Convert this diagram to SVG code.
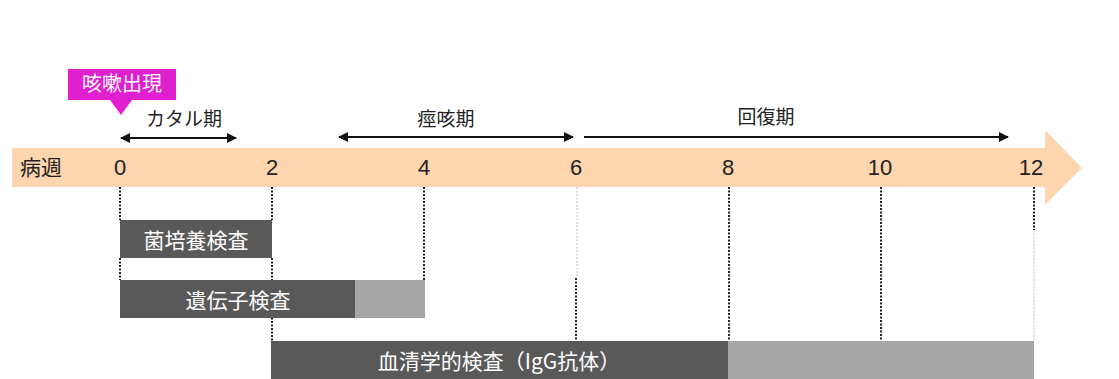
<svg xmlns="http://www.w3.org/2000/svg" width="1119" height="379" viewBox="0 0 1119 379">
<style>
text{font-family:"Noto Sans CJK JP","Noto Sans",sans-serif;font-size:19px;fill:#222;}
.num{font-family:"Liberation Sans","Noto Sans CJK JP",sans-serif;font-size:22px;}
.bar{font-size:21px;fill:#fff;}
.w{fill:#fff;}
.dd{stroke:#222;stroke-width:2;stroke-dasharray:2 1.5;fill:none;}
.dl{stroke:#bbb;stroke-width:1;stroke-dasharray:2 1.5;fill:none;}
.ar{stroke:#111;stroke-width:2;fill:none;}
.dark{fill:#595959;}
.light{fill:#a6a6a6;}
</style>
<defs>
<marker id="ah" viewBox="0 0 10 10" refX="9" refY="5" markerWidth="5" markerHeight="5" orient="auto-start-reverse">
<path d="M0,0 L10,5 L0,10 z" fill="#111"/>
</marker>
</defs>
<g id="axis">
<path d="M12,148 H1045 V130 L1082,168 L1045,205 V187 H12 Z" fill="#fdd5ae"/>
<text x="20" y="175" style="font-size:21px">病週</text>
<text class="num" x="120" y="175" text-anchor="middle">0</text>
<text class="num" x="272" y="175" text-anchor="middle">2</text>
<text class="num" x="424" y="175" text-anchor="middle">4</text>
<text class="num" x="576" y="175" text-anchor="middle">6</text>
<text class="num" x="728" y="175" text-anchor="middle">8</text>
<text class="num" x="880" y="175" text-anchor="middle">10</text>
<text class="num" x="1031" y="175" text-anchor="middle">12</text>
</g>
<g id="onset">
<rect x="68" y="69" width="108" height="31" fill="#e020d0"/>
<path d="M110,100 L132,100 L121,115 Z" fill="#e020d0"/>
<text x="122" y="91" text-anchor="middle" class="w" style="font-size:20px">咳嗽出現</text>
</g>
<g id="connectors">
<line class="ar" x1="121" y1="138" x2="236" y2="138" marker-start="url(#ah)" marker-end="url(#ah)"/>
<line class="ar" x1="339" y1="137" x2="573" y2="137" marker-start="url(#ah)" marker-end="url(#ah)"/>
<line class="ar" x1="584" y1="137" x2="1008" y2="137" marker-end="url(#ah)"/>
<line class="dd" x1="120" y1="187" x2="120" y2="220"/>
<line class="dd" x1="120" y1="258" x2="120" y2="280"/>
<line class="dd" x1="272" y1="187" x2="272" y2="220"/>
<line class="dd" x1="272" y1="258" x2="272" y2="341"/>
<line class="dd" x1="424" y1="187" x2="424" y2="280"/>
<line class="dl" x1="577" y1="187" x2="577" y2="278"/>
<line class="dd" x1="576" y1="278" x2="576" y2="341"/>
<line class="dd" x1="729" y1="187" x2="729" y2="341"/>
<line class="dd" x1="881" y1="187" x2="881" y2="341"/>
<line class="dd" x1="1034" y1="187" x2="1034" y2="230"/>
<line class="dl" x1="1034" y1="230" x2="1034" y2="341"/>
</g>
<g id="phases">
<text x="184" y="126" text-anchor="middle">カタル期</text>
<text x="446" y="126" text-anchor="middle">痙咳期</text>
<text x="766" y="124" text-anchor="middle">回復期</text>
</g>
<g id="culture">
<rect class="dark" x="120" y="220" width="152" height="38"/>
<text x="196" y="248" text-anchor="middle" class="bar">菌培養検査</text>
</g>
<g id="gene">
<rect class="dark" x="120" y="280" width="235" height="38"/>
<rect class="light" x="355" y="280" width="70" height="38"/>
<text x="238" y="308" text-anchor="middle" class="bar">遺伝子検査</text>
</g>
<g id="serology">
<rect class="dark" x="271" y="341" width="457" height="38"/>
<rect class="light" x="728" y="341" width="306" height="38"/>
<text x="499" y="369" text-anchor="middle" class="bar">血清学的検査（IgG抗体）</text>
</g>
</svg>
